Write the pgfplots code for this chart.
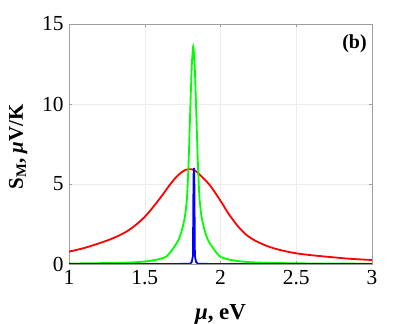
\documentclass[border=0pt]{standalone}
\usepackage{fontspec}
\setmainfont{Liberation Serif}
\usepackage{pgfplots}
\pgfplotsset{compat=1.18}
\definecolor{mred}{RGB}{255,0,0}
\definecolor{mgreen}{RGB}{0,255,0}
\definecolor{mblue}{RGB}{0,0,255}
\begin{document}
\begin{tikzpicture}
\path[use as bounding box] (-69bp,-60bp) rectangle (342bp,264bp);
\begin{axis}[
  at={(0,0)}, anchor=south west,
  scale only axis, width=303bp, height=240bp,
  xmin=1, xmax=3, ymin=0, ymax=15,
  xtick={1,1.5,2,2.5,3}, ytick={0,5,10,15},
  tick align=inside, major tick length=3bp,
  grid=major, major grid style={draw=gray!15, line width=0.5pt},
  axis line style={draw=gray!75, line width=0.6pt},
  tick style={draw=gray!75},
  ticklabel style={font=\fontsize{21.5}{24}\selectfont},
  /pgf/number format/assume math mode=true,
  xticklabel style={yshift=-3bp},
  yticklabel style={xshift=-2bp},
  xlabel={\textbf{\textit{μ}, eV}},
  label style={font=\fontsize{23}{26}\selectfont},
  xlabel style={at={(axis description cs:0.5,0)}, anchor=base, yshift=-55bp},
]
% red curve
\addplot[mred, line width=1.8pt, smooth, tension=0.6] coordinates {
(1.00,0.77) (1.10,1.00) (1.20,1.30) (1.30,1.65) (1.40,2.15) (1.50,2.95)
(1.60,4.10) (1.65,4.75) (1.70,5.35) (1.75,5.78) (1.79,5.93) (1.83,5.85)
(1.87,5.52) (1.93,4.92) (2.00,3.95) (2.06,3.05) (2.13,2.20) (2.20,1.62)
(2.30,1.15) (2.40,0.86) (2.50,0.67) (2.60,0.55) (2.72,0.44) (2.85,0.33)
(3.00,0.25)
};
% green curve
\addplot[mgreen, line width=1.8pt, smooth, tension=0.4] coordinates {
(1.00,0.03) (1.32,0.07) (1.47,0.13) (1.57,0.25) (1.64,0.45) (1.68,0.875)
(1.72,1.45) (1.74,1.95) (1.76,2.70) (1.77,3.30) (1.78,4.30) (1.79,6.50)
(1.80,9.50) (1.81,12.30) (1.82,13.60) (1.83,12.30) (1.84,9.50) (1.85,6.50)
(1.86,4.30) (1.87,3.30) (1.88,2.70) (1.90,1.95) (1.92,1.45) (1.96,0.875)
(2.00,0.45) (2.07,0.25) (2.17,0.13) (2.32,0.07) (2.64,0.03) (3.00,0.02)
};
% blue curve
\addplot[mblue, line width=1.8pt] coordinates {
(1.00,0) (1.70,0) (1.80,0.02) (1.81,0.12) (1.818,0.5) (1.822,5.5) (1.8245,6.0)
(1.827,5.5) (1.831,0.5) (1.839,0.12) (1.85,0.02) (1.95,0) (3.00,0)
};
\node[anchor=north east, inner sep=0pt, font=\bfseries\fontsize{20}{24}\selectfont]
  at (rel axis cs:0.983,0.955) {(b)};
\end{axis}
\node[rotate=90, anchor=base, inner sep=0pt, font=\fontsize{21}{24}\selectfont]
  at (-46bp,117bp) {\textbf{S\textsubscript{M}, \textit{μ}V/K}};
\end{tikzpicture}
\end{document}
